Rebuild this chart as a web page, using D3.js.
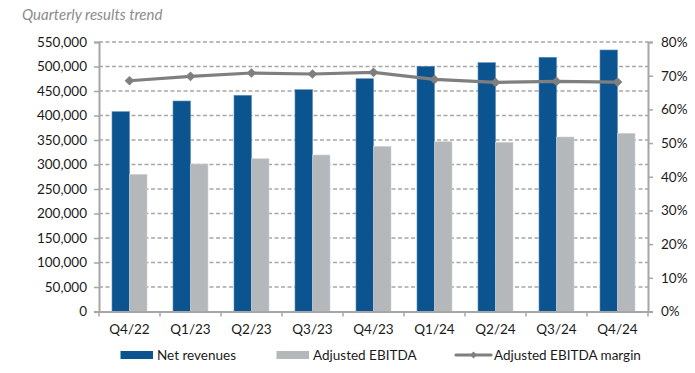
<!DOCTYPE html>
<html><head><meta charset="utf-8">
<script src="https://cdn.jsdelivr.net/npm/d3@7"></script>
<style>
html,body{margin:0;padding:0;background:#fff;}
svg text{font-family:Lato,"Open Sans",sans-serif;}
</style></head>
<body><svg id="c" width="695" height="373"></svg>
<script>
const categories = ["Q4/22","Q1/23","Q2/23","Q3/23","Q4/23","Q1/24","Q2/24","Q3/24","Q4/24"];
const netRevenues = [407800,429600,441200,452700,475100,500400,507800,518800,533700];
const adjEbitda = [280000,301000,311800,319400,337100,346500,345300,356100,363700];
const ebitdaMargin = [68.5,69.8,70.8,70.5,71.0,68.9,68.0,68.3,68.1];
const leftTicks = d3.range(0,550001,50000);
const rightTicks = d3.range(0,81,10);
const seriesNames = ["Net revenues","Adjusted EBITDA","Adjusted EBITDA margin"];

const svg = d3.select("#c");
const L = 99, R = 648, T = 42, B = 311.5;
const x = d3.scaleBand().domain(categories).range([L,R]).paddingInner(0).paddingOuter(0);
const yL = d3.scaleLinear().domain([0,550000]).range([B,T]);
const yR = d3.scaleLinear().domain([0,80]).range([B,T]);
const axisCol = "#a6a6a6", textCol = "#1a1a1a";

svg.append("text").attr("x",22).attr("y",20).attr("font-size",15).attr("font-style","italic")
  .attr("fill","#8c8c8c").text("Quarterly results trend");

// gridlines
svg.append("g").selectAll("line").data(leftTicks.filter(d=>d>0)).join("line")
  .attr("x1",L).attr("x2",R).attr("y1",d=>yL(d)).attr("y2",d=>yL(d))
  .attr("stroke","#a6a6a6").attr("stroke-width",1.3).attr("stroke-dasharray","4,2.5");

// bars
const bw = 17.5;
const g = svg.append("g");
g.selectAll(".rev").data(categories).join("rect")
  .attr("x",(d)=>x(d)+x.bandwidth()/2-bw).attr("width",bw)
  .attr("y",(d,i)=>yL(netRevenues[i])).attr("height",(d,i)=>B-yL(netRevenues[i]))
  .attr("fill","#0c548f").attr("stroke","#5b8db8").attr("stroke-width",0.6);
g.selectAll(".eb").data(categories).join("rect")
  .attr("x",(d)=>x(d)+x.bandwidth()/2).attr("width",bw)
  .attr("y",(d,i)=>yL(adjEbitda[i])).attr("height",(d,i)=>B-yL(adjEbitda[i]))
  .attr("fill","#b4b8bb").attr("stroke","#d0d3d5").attr("stroke-width",0.6);

// axes
const la = svg.append("g").attr("transform",`translate(${L},0)`)
  .call(d3.axisLeft(yL).tickValues(leftTicks).tickFormat(d3.format(",")).tickSize(5).tickPadding(7));
const ra = svg.append("g").attr("transform",`translate(${R},0)`)
  .call(d3.axisRight(yR).tickValues(rightTicks).tickFormat(d=>d+"%").tickSize(5).tickPadding(8));
const ba = svg.append("g").attr("transform",`translate(0,${B})`)
  .call(d3.axisBottom(x).tickSize(0).tickPadding(13));
[la,ra,ba].forEach(a=>{
  a.select(".domain").attr("stroke",axisCol).attr("stroke-width",2);
  a.selectAll(".tick line").attr("stroke",axisCol).attr("stroke-width",1.5);
  a.selectAll("text").attr("font-size",13.5).attr("fill",textCol).attr("font-family","Lato,sans-serif");
});
// category separator ticks
svg.append("g").selectAll("line").data(d3.range(categories.length+1)).join("line")
  .attr("x1",i=>L+i*x.step()).attr("x2",i=>L+i*x.step()).attr("y1",B).attr("y2",B+5)
  .attr("stroke",axisCol).attr("stroke-width",1.5);

// margin line
const line = d3.line().x((d,i)=>x(categories[i])+x.bandwidth()/2).y(d=>yR(d));
svg.append("path").datum(ebitdaMargin).attr("d",line).attr("fill","none")
  .attr("stroke","#7f7f7f").attr("stroke-width",3.2);
const diamond = d3.symbol().type(d3.symbolDiamond2).size(60);
svg.append("g").selectAll("path").data(ebitdaMargin).join("path")
  .attr("d",diamond)
  .attr("transform",(d,i)=>`translate(${x(categories[i])+x.bandwidth()/2},${yR(d)})`)
  .attr("fill","#7f7f7f");

// legend
const lg = svg.append("g").attr("font-size",13.5).attr("fill",textCol);
const ly = 355;
lg.append("rect").attr("x",120.5).attr("y",ly-4).attr("width",32.5).attr("height",8).attr("fill","#0c548f");
lg.append("text").attr("x",157).attr("y",ly+5).text(seriesNames[0]);
lg.append("rect").attr("x",276.5).attr("y",ly-4).attr("width",32.5).attr("height",8).attr("fill","#b4b8bb");
lg.append("text").attr("x",313).attr("y",ly+5).text(seriesNames[1]);
lg.append("line").attr("x1",456).attr("x2",491).attr("y1",ly).attr("y2",ly).attr("stroke","#7f7f7f").attr("stroke-width",3.2).attr("stroke-linecap","round");
lg.append("path").attr("d",d3.symbol().type(d3.symbolDiamond2).size(30)).attr("transform",`translate(473.5,${ly})`).attr("fill","#7f7f7f");
lg.append("text").attr("x",494).attr("y",ly+5).text(seriesNames[2]);
</script></body></html>
